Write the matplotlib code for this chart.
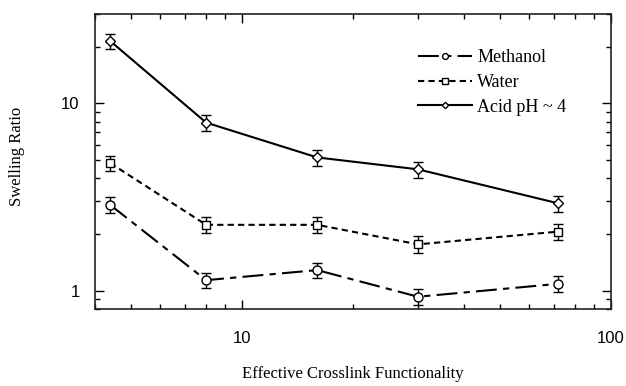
import matplotlib.pyplot as plt
from matplotlib.ticker import LogLocator, NullFormatter, FixedLocator, FixedFormatter

# crosslink functionality (x) and swelling ratios
functionality = [4.4, 8, 16, 30, 72]

methanol = [2.87, 1.14, 1.29, 0.93, 1.09]
methanol_err = [0.28, 0.11, 0.12, 0.09, 0.11]

water = [4.8, 2.25, 2.25, 1.77, 2.07]
water_err = [0.45, 0.22, 0.22, 0.18, 0.2]

acid = [21.5, 7.9, 5.15, 4.45, 2.93]
acid_err = [2.1, 0.75, 0.5, 0.43, 0.28]

x_ticks = [10, 100]
y_ticks = [1, 10]

fig = plt.figure(figsize=(6.26, 3.86), dpi=100)
ax = fig.add_axes([0.1518, 0.1995, 0.976 - 0.1518, 0.9637 - 0.1995])

common = dict(color="black", lw=1.5, ecolor="black", elinewidth=1.0,
              capsize=3.5, capthick=1.0, mfc="white", mec="black", mew=1.0)

ax.errorbar(functionality, methanol, yerr=methanol_err, marker="o", ms=6.5,
            dashes=(10, 3, 3, 3), label="Methanol", **common)
ax.errorbar(functionality, water, yerr=water_err, marker="s", ms=6,
            dashes=(3, 2), label="Water", **common)
ax.errorbar(functionality, acid, yerr=acid_err, marker="D", ms=5,
            ls="-", label="Acid pH ~ 4", **common)

ax.set_xscale("log")
ax.set_yscale("log")
ax.set_xlim(4, 100)
ax.set_ylim(0.8, 30)

ax.xaxis.set_major_locator(FixedLocator(x_ticks))
ax.xaxis.set_major_formatter(FixedFormatter([str(t) for t in x_ticks]))
ax.yaxis.set_major_locator(FixedLocator(y_ticks))
ax.yaxis.set_major_formatter(FixedFormatter([str(t) for t in y_ticks]))
ax.xaxis.set_minor_locator(LogLocator(base=10, subs=range(2, 10)))
ax.yaxis.set_minor_locator(LogLocator(base=10, subs=range(2, 10)))
ax.xaxis.set_minor_formatter(NullFormatter())
ax.yaxis.set_minor_formatter(NullFormatter())

ax.tick_params(which="both", direction="in", top=True, right=True,
               width=1.0, colors="black")
ax.tick_params(which="major", length=6.5)
ax.tick_params(which="minor", length=3.3)
ax.tick_params(axis="x", which="major", pad=16)
ax.tick_params(axis="y", which="major", pad=11)
for lab in ax.get_xticklabels() + ax.get_yticklabels():
    lab.set_fontfamily("Liberation Sans")
    lab.set_fontsize(12)

for sp in ax.spines.values():
    sp.set_linewidth(1.2)
    sp.set_color("#222222")

ax.set_xlabel("Effective Crosslink Functionality", family="Liberation Serif", fontsize=12)
ax.set_ylabel("Swelling Ratio", family="Liberation Serif", fontsize=12)
ax.xaxis.set_label_coords(0.5, -0.193)
ax.yaxis.set_label_coords(-0.136, 0.517)

h, l = ax.get_legend_handles_labels()
h = [x[0] for x in h]
leg = ax.legend(h, l, loc="upper right", bbox_to_anchor=(0.945, 0.935),
                frameon=False, handlelength=3.0, handletextpad=0.3,
                labelspacing=0.42, markerscale=0.65,
                prop={"family": "Liberation Serif", "size": 13})

fig.savefig("out.png", dpi=100)
